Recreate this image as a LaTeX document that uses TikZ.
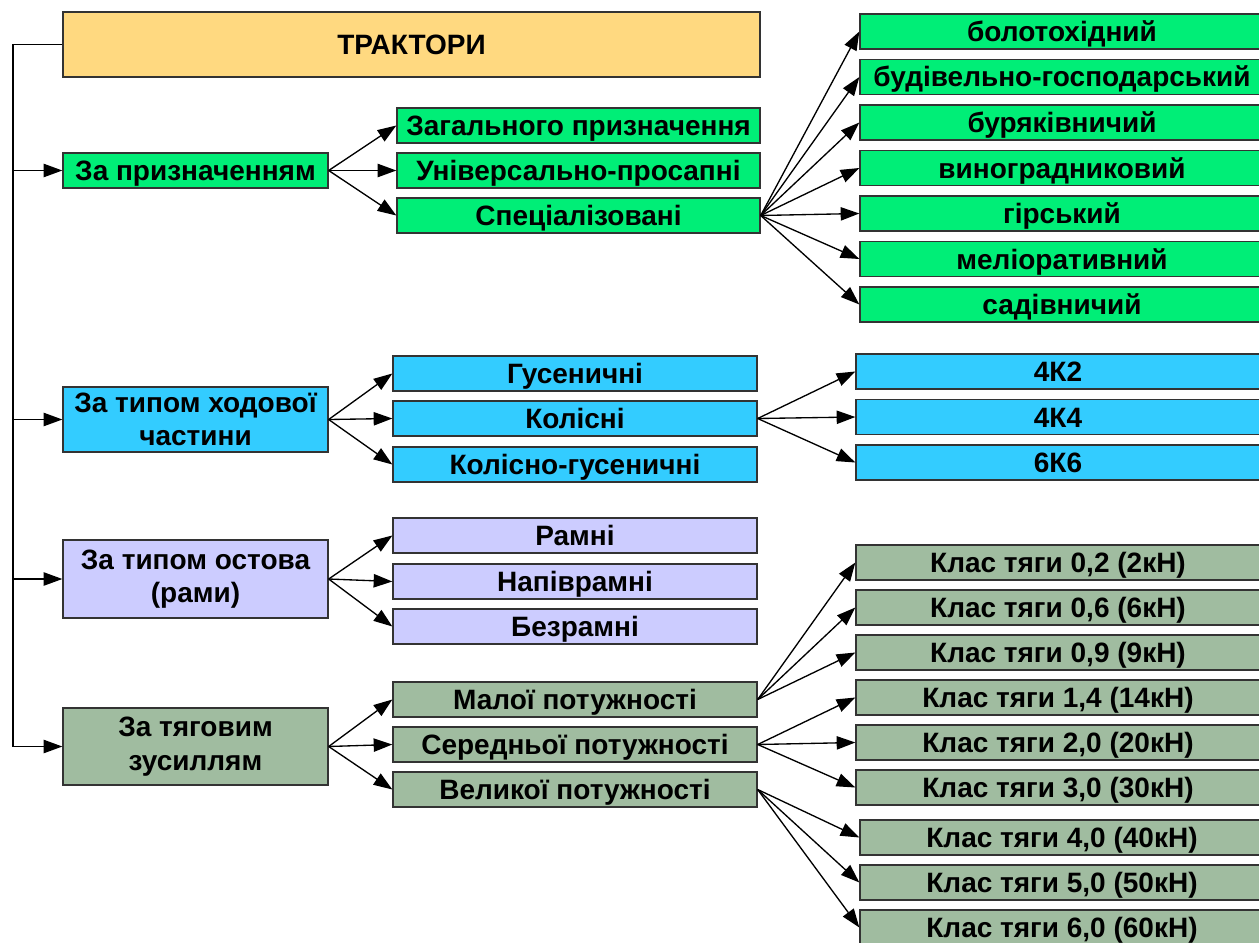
\documentclass[tikz,border=0pt]{standalone}
\usepackage{fontspec}
\setmainfont{Liberation Sans}
\usetikzlibrary{arrows.meta}
\definecolor{rootcol}{RGB}{255,217,128}
\definecolor{purpcol}{RGB}{0,238,119}
\definecolor{chascol}{RGB}{51,204,255}
\definecolor{framcol}{RGB}{204,204,255}
\definecolor{powcol}{RGB}{160,188,160}
\newcommand{\pxu}{0.75pt}
\begin{document}
\begin{tikzpicture}[x=0.75pt,y=-0.75pt,
  box/.style={draw=black!80,line width=1pt,inner sep=0pt,text height=15pt,text depth=0pt,
    font=\bfseries\fontsize{21}{25}\selectfont,minimum height=35*\pxu},
  twoline/.style={align=center,text height=,text depth=},
  catbox/.style={box,minimum width=265*\pxu},
  subbox/.style={box,minimum width=364*\pxu},
  leafbox/.style={box,minimum width=404*\pxu},
  arr/.style={-{Triangle[length=14pt,width=10pt]},line width=1pt}]
\useasboundingbox (0,0) rectangle (1259,942);

% root and categories
\node[box,fill=rootcol,minimum width=697*\pxu,minimum height=65*\pxu] (root) at (411.5,44.5) {ТРАКТОРИ};
\node[catbox,fill=purpcol] (purp) at (195.5,170.5) {За призначенням};
\node[catbox,twoline,fill=chascol,minimum height=65*\pxu] (chas) at (195.5,419.5) {За типом ходової\\частини};
\node[catbox,twoline,fill=framcol,minimum height=78*\pxu] (fram) at (195.5,579) {За типом остова\\(рами)};
\node[catbox,twoline,fill=powcol,minimum height=77*\pxu] (pow) at (195.5,746.5) {За тяговим\\зусиллям};

% trunk
\coordinate (trunkTop) at (13,44.5);
\coordinate (trunkBot) at (13,746.5);
\draw[line width=1pt] (root.west) -- (trunkTop) -- (trunkBot);
\foreach \c in {purp,chas,fram,pow}
  \draw[arr] (trunkTop |- \c.west) -- (\c.west);

% second level
\foreach \t [count=\i] in {Загального призначення,Універсально-просапні,Спеціалізовані}{
  \node[box,fill=purpcol,minimum width=363*\pxu] (p\i) at (578.5,80.5+45*\i) {\t};
  \draw[arr] (purp.east) -- (p\i.west);
}
\foreach \t/\y [count=\i] in {Гусеничні/373.5,Колісні/418.5,Колісно-гусеничні/464.5}{
  \node[subbox,fill=chascol] (c\i) at (575,\y) {\t};
  \draw[arr] (chas.east) -- (c\i.west);
}
\foreach \t/\y [count=\i] in {Рамні/535.5,Напіврамні/581.5,Безрамні/626.5}{
  \node[subbox,fill=framcol] (f\i) at (575,\y) {\t};
  \draw[arr] (fram.east) -- (f\i.west);
}
\foreach \t [count=\i] in {Малої потужності,Середньої потужності,Великої потужності}{
  \node[subbox,fill=powcol] (w\i) at (575,654.5+45*\i) {\t};
  \draw[arr] (pow.east) -- (w\i.west);
}

% third level
\foreach \t [count=\i] in {болотохідний,будівельно-господарський,буряківничий,виноградниковий,гірський,меліоративний,садівничий}{
  \node[leafbox,fill=purpcol] (s\i) at (1062,-14+45.5*\i) {\t};
  \draw[arr] (p3.east) -- (s\i.west);
}
\foreach \t [count=\i] in {4К2,4К4,6К6}{
  \node[leafbox,fill=chascol] (k\i) at (1058,326+45.5*\i) {\t};
  \draw[arr] (c2.east) -- (k\i.west);
}
\foreach \v/\f [count=\i] in {{0,2}/2,{0,6}/6,{0,9}/9,{1,4}/14,{2,0}/20,{3,0}/30}{
  \node[leafbox,fill=powcol] (t\i) at (1058,517.5+45*\i) {Клас тяги \v\ (\f кН)};
}
\foreach \v/\f [count=\i from 7] in {{4,0}/40,{5,0}/50,{6,0}/60}{
  \node[leafbox,fill=powcol] (t\i) at (1062,522.5+45*\i) {Клас тяги \v\ (\f кН)};
}
\foreach \i in {1,2,3} \draw[arr] (w1.east) -- (t\i.west);
\foreach \i in {4,5,6} \draw[arr] (w2.east) -- (t\i.west);
\foreach \i in {7,8,9} \draw[arr] (w3.east) -- (t\i.west);
\end{tikzpicture}
\end{document}
